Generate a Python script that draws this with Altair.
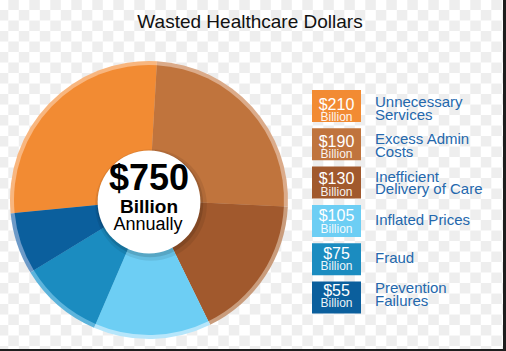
import math
import altair as alt
import pandas as pd

# ---- data ----
categories = ["Unnecessary Services", "Excess Admin Costs", "Inefficient Delivery of Care",
              "Inflated Prices", "Fraud", "Prevention Failures"]
label_text = ["Unnecessary\nServices", "Excess Admin\nCosts", "Inefficient\nDelivery of Care",
              "Inflated Prices", "Fraud", "Prevention\nFailures"]
amounts = [210, 190, 130, 105, 75, 55]
pie_order = [5, 0, 1, 2, 3, 4]
total_text = ["$750", "Billion", "Annually"]
title_text = "Wasted Healthcare Dollars"

# ---- styles ----
main_colors = ["#f28b33", "#c0743d", "#a1592d", "#6dcef4", "#1b8cc0", "#0b5f9d"]
rim_colors = ["#f8b67f", "#dbab8a", "#c99c7c", "#b6e6fb", "#5db4dc", "#6c9ac8"]
FONT = "Liberation Sans"
W, H = 506, 351
CX, CY = 149, 200
START = math.radians(3.3)

df = pd.DataFrame({
    "cat": categories,
    "label": label_text,
    "amount": amounts,
    "amt_text": ["$" + str(a) for a in amounts],
    "ord": pie_order,
})

theta = alt.Theta("amount:Q", stack=True,
                  scale=alt.Scale(range=[START, START + 2 * math.pi]))
order = alt.Order("ord:Q")

# checkerboard background (transparency pattern)
SQ = 10.5
NC, NR = 50, 35
checker = alt.Chart(alt.sequence(0, NC * NR, as_="i")).transform_calculate(
    c=f"datum.i % {NC}", r=f"floor(datum.i / {NC})"
).transform_filter("(datum.c + datum.r) % 2 == 1").transform_calculate(
    x0=f"-2.2 + datum.c * {SQ}", x1=f"-2.2 + (datum.c + 1) * {SQ}",
    y0=f"-0.5 + datum.r * {SQ}", y1=f"-0.5 + (datum.r + 1) * {SQ}",
).mark_rect(color="#eeeeee", clip=True).encode(
    x=alt.X("x0:Q", scale=alt.Scale(domain=[0, W], range=[0, W], nice=False, zero=False), axis=None),
    x2="x1:Q",
    y=alt.Y("y0:Q", scale=alt.Scale(domain=[0, H], range=[0, H], nice=False, zero=False), axis=None),
    y2="y1:Q",
)

base = alt.Chart(df)

rim = base.mark_arc(outerRadius=139, innerRadius=0).encode(
    theta=theta, order=order,
    color=alt.Color("cat:N", scale=alt.Scale(domain=categories, range=rim_colors), legend=None),
    x=alt.value(CX), y=alt.value(CY),
)
pie = base.mark_arc(outerRadius=135, innerRadius=0).encode(
    theta=theta, order=order,
    color=alt.Color("cat:N", scale=alt.Scale(domain=categories, range=main_colors), legend=None),
    x=alt.value(CX), y=alt.value(CY),
)

one = alt.Chart(pd.DataFrame({"k": [0]}))
shadow1 = one.mark_circle(color="#000000", opacity=0.08).encode(
    x=alt.value(CX + 2), y=alt.value(CY + 5), size=alt.value(math.pi * 63 ** 2))
shadow2 = one.mark_circle(color="#000000", opacity=0.12).encode(
    x=alt.value(CX + 1), y=alt.value(CY + 4), size=alt.value(math.pi * 60 ** 2))
disc = one.mark_circle(color="#ffffff", opacity=1).encode(
    x=alt.value(CX), y=alt.value(CY + 2), size=alt.value(math.pi * 58 ** 2))

t750 = one.mark_text(text=total_text[0], font=FONT, fontSize=36, fontWeight="bold",
                     color="#000000", align="center", baseline="alphabetic").encode(
    x=alt.value(CX), y=alt.value(190))
tbil = one.mark_text(text=total_text[1], font=FONT, fontSize=19, fontWeight="bold",
                     color="#000000", align="center", baseline="alphabetic").encode(
    x=alt.value(CX), y=alt.value(212.5))
tann = one.mark_text(text=total_text[2], font=FONT, fontSize=18,
                     color="#000000", align="center", baseline="alphabetic").encode(
    x=alt.value(CX - 1), y=alt.value(230))

title = one.mark_text(text=title_text, font=FONT, fontSize=19, color="#111111",
                      align="center", baseline="alphabetic").encode(
    x=alt.value(250), y=alt.value(28))

yband = alt.Y("cat:N", scale=alt.Scale(domain=categories, range=[90, 313.5],
                                       paddingInner=0.164, paddingOuter=0), axis=None)

boxes = base.mark_bar().encode(
    y=yband, x=alt.value(312), x2=alt.value(361),
    color=alt.Color("cat:N", scale=alt.Scale(domain=categories, range=main_colors), legend=None),
)
box_amt = base.mark_text(font=FONT, fontSize=16, color="#ffffff", align="center",
                         baseline="alphabetic", dy=1).encode(
    y=yband, x=alt.value(336.5), text="amt_text:N")
box_bil = base.mark_text(text="Billion", font=FONT, fontSize=12, color="#ffffff",
                         opacity=0.92, align="center", baseline="alphabetic", dy=12.5).encode(
    y=yband, x=alt.value(336.5))
labels_two = base.transform_filter("indexof(datum.label, '\\n') >= 0").mark_text(
    font=FONT, fontSize=15, color="#2468ad", align="left",
    baseline="middle", lineBreak="\n", lineHeight=12.5, dy=-6.5).encode(
    y=yband, x=alt.value(375), text="label:N")
labels_one = base.transform_filter("indexof(datum.label, '\\n') < 0").mark_text(
    font=FONT, fontSize=15, color="#2468ad", align="left",
    baseline="middle", dy=0).encode(
    y=yband, x=alt.value(375), text="label:N")

frame = one.mark_rect(color="#1e1e1e").encode(
    x=alt.value(503), x2=alt.value(W), y=alt.value(0), y2=alt.value(H))
frame2 = one.mark_rect(color="#1e1e1e").encode(
    x=alt.value(0), x2=alt.value(W), y=alt.value(349), y2=alt.value(H))

chart = alt.layer(
    checker, rim, pie, shadow1, shadow2, disc, t750, tbil, tann, title,
    boxes, box_amt, box_bil, labels_two, labels_one, frame, frame2
).resolve_scale(
    x="independent", y="independent", color="independent", theta="independent"
).properties(
    width=W, height=H, padding=0, autosize="none", background="#ffffff"
).configure_view(stroke=None)

chart.save("out.html", embed_options={"renderer": "svg", "actions": False})
